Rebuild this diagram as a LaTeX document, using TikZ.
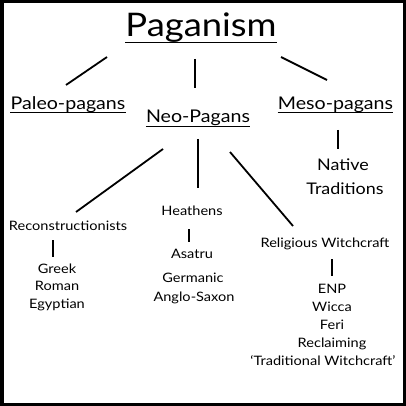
\documentclass[tikz,border=0pt]{standalone}
\usepackage{fontspec}
\setmainfont{Lato}[FakeStretch=1.12]
\begin{document}
\begin{tikzpicture}[x=1pt,y=-1pt,
        link/.style={line width=1.8pt},
        uline/.style={line width=0.9pt},
        title/.style={anchor=base,inner sep=0pt,font=\fontsize{32.5}{38}\selectfont},
        branch/.style={anchor=base,inner sep=0pt,font=\fontsize{17.5}{20}\selectfont},
        native/.style={anchor=base,inner sep=0pt,font=\fontsize{16}{20}\selectfont},
        leaf/.style={anchor=base,inner sep=0pt,font=\fontsize{13}{17}\selectfont}]
        \useasboundingbox (0,0) rectangle (406,406);
        \draw[line width=3.5pt] (1.75,1.75) rectangle (404.25,404.25);
        % top level
        \node[title] (pagan) at (201,37) {Paganism};
        \node[branch] (paleo) at (68,110) {Paleo-pagans};
        \node[branch] (neo) at (198,123) {Neo-Pagans};
        \node[branch] (meso) at (335.5,110) {Meso-pagans};
        \def\uline#1#2{\draw[uline] ([yshift=-#2]#1.base west) -- ([yshift=-#2]#1.base east)}
        \uline{pagan}{5pt};
        \uline{paleo}{2.5pt};
        \uline{neo}{3pt};
        \uline{meso}{2.5pt};
        \node[native] (native) at (343,170) {Native};
        \node[native] (trad) at (345,194) {Traditions};
        % neo-pagan groups
        \node[leaf] (recon) at (68,230) {Reconstructionists};
        \node[leaf] (heathen) at (192,215) {Heathens};
        \node[leaf] (relwitch) at (325,247) {Religious Witchcraft};
        \foreach \txt [count=\i] in {Greek,Roman,Egyptian}
            \node[leaf] (recon\i) at (57,273+17.5*\i-17.5) {\txt};
        \node[leaf] (asatru) at (192,258) {Asatru};
        \node[leaf] (germanic) at (193,282) {Germanic};
        \node[leaf] (anglo) at (194,301) {Anglo-Saxon};
        \foreach \txt [count=\i] in {ENP,Wicca,Feri,Reclaiming}
            \node[leaf] (witch\i) at (332,293+18*\i-18) {\txt};
        \node[leaf] (witch5) at (323,365) {‘Traditional Witchcraft’};
        % connector ends
        \coordinate (paganL) at (107,57);  \coordinate (paleoT) at (66,85);
        \coordinate (paganM) at (195,59);  \coordinate (neoT) at (195,88);
        \coordinate (paganR) at (281,57);  \coordinate (mesoT) at (327,80);
        \coordinate (mesoB) at (338,130);  \coordinate (nativeT) at (338,149);
        \coordinate (neoL) at (163,149);   \coordinate (reconT) at (76,212);
        \coordinate (neoM) at (198,139);   \coordinate (heathenT) at (198,188);
        \coordinate (neoR) at (230,152);   \coordinate (relwitchT) at (293,226);
        \coordinate (reconB) at (53,240);  \coordinate (greekT) at (53,257);
        \coordinate (heathenB) at (189,229); \coordinate (asatruT) at (189,242);
        \coordinate (relwitchB) at (332,259); \coordinate (enpT) at (332,276);
        \foreach \a/\b in {paganL/paleoT,paganM/neoT,paganR/mesoT,mesoB/nativeT,
                neoL/reconT,neoM/heathenT,neoR/relwitchT,reconB/greekT,
                heathenB/asatruT,relwitchB/enpT}
            \draw[link] (\a) -- (\b);
\end{tikzpicture}
\end{document}
